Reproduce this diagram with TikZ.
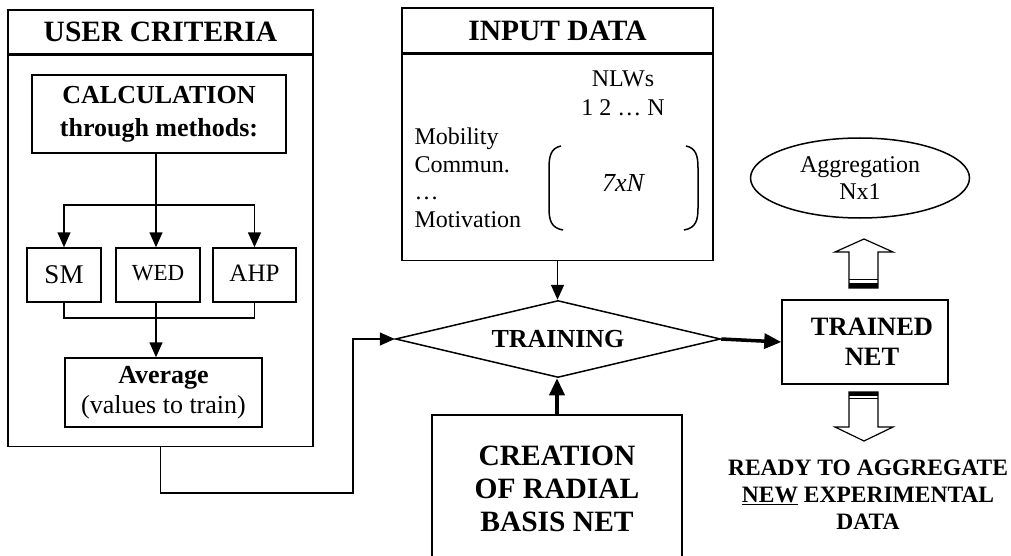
\documentclass[tikz,border=0pt]{standalone}
\usepackage{fontspec}
\setmainfont{Liberation Serif}
\usetikzlibrary{shapes.geometric}
\usetikzlibrary{arrows.meta}
\usetikzlibrary{positioning}
\usetikzlibrary{calc}

\newcommand{\hdfont}{\fontsize{26}{33}\selectfont\bfseries}
\newcommand{\titlefont}{\fontsize{29.5}{33}\selectfont\bfseries}
\newcommand{\txfont}{\fontsize{24}{27.5}\selectfont}

\tikzset{
  box/.style={draw, line width=1.5pt, inner sep=0pt, align=center},
  headbox/.style={box, font=\hdfont},
  link/.style={line width=1.5pt},
  fatlink/.style={line width=3.5pt, -{Triangle[length=17pt,width=15pt]}},
  blockarrow/.style={draw, line width=1.2pt, fill=white}
}

\begin{document}
\begin{tikzpicture}[x=1pt, y=-1pt, >={Triangle[length=15pt,width=13pt]}]
      \useasboundingbox (0,0) rectangle (1011,556);
      \clip (0,0) rectangle (1011,556);

      % User criteria panel
      \node[headbox, font=\titlefont, minimum width=305, minimum height=44] (userhdr) at (160.5,32) {USER CRITERIA};
      \node[box, minimum width=305, minimum height=391, anchor=north] (userbody) at (userhdr.south) {};

      \node[headbox, minimum width=254, minimum height=78] (calc) at (159,114) {CALCULATION\\through methods:};

      % Methods
      \node[box, font=\fontsize{27}{30}\selectfont, minimum width=74, minimum height=54] (sm) at (64,275) {SM};
      \node[box, font=\fontsize{23}{26}\selectfont, minimum width=84, minimum height=54] (wed) at (158,275) {\raisebox{5pt}{WED}};
      \node[box, font=\fontsize{25}{28}\selectfont, minimum width=83, minimum height=54] (ahp) at (254.5,275) {\raisebox{3pt}{AHP}};

      \node[box, font=\fontsize{26}{30}\selectfont, minimum width=197, minimum height=69] (avg) at (163.5,392.5) {\textbf{Average}\\(values to train)};

      % Arrows inside the panel
      \coordinate (fork) at (156,205);
      \coordinate (join) at (156,318);
      \draw[link, ->] (calc.south -| fork) -- (fork |- wed.north);
      \draw[link, ->] (fork) -| (sm.north);
      \draw[link, ->] (fork) -| (ahp.north);
      \draw[link] (sm.south) |- (join) -| (ahp.south);
      \draw[link, ->] (wed.south -| join) -- (join |- avg.north);

      % Input data panel
      \node[headbox, font=\titlefont, minimum width=311, minimum height=45] (inhdr) at (557.5,30.5) {INPUT DATA};
      \node[box, minimum width=311, minimum height=206, anchor=north] (inbody) at (inhdr.south) {};

      \node[font=\fontsize{24}{29}\selectfont, align=center] (nlw) at (623,93) {NLWs\\1 2 … N};
      \node[font=\txfont, align=left, anchor=west] (crit) at (411,178) {Mobility\\Commun.\\…\\Motivation};
      \node[font=\fontsize{26}{30}\selectfont\itshape] (size) at (623,183) {7xN};

      % Matrix brackets
      \draw[link] (561,146) .. controls (551,148) and (549,156) .. (549,168) -- (549,208) .. controls (549,220) and (551,228) .. (563,230);
      \draw[link] (686,146) .. controls (696,148) and (698,156) .. (698,168) -- (698,208) .. controls (698,220) and (696,228) .. (684,230);

      % Training
      \node[draw, diamond, line width=1.5pt, inner sep=0pt, aspect=4.2, minimum width=325, minimum height=77, font=\hdfont] (train) at (558,339) {TRAINING};

      \node[headbox, font=\titlefont, minimum width=250, minimum height=148, anchor=north] (create) at (557,414) {CREATION\\OF RADIAL\\BASIS NET};

      \node[headbox, font=\fontsize{26.5}{30}\selectfont\bfseries, minimum width=166, minimum height=84] (trained) at (865,342) {\hspace*{14pt}TRAINED\\\hspace*{14pt}NET};

      % Output
      \node[draw, ellipse, line width=1.5pt, inner sep=0pt, minimum width=219, minimum height=80, font=\fontsize{24}{27}\selectfont, align=center] (aggr) at (860,178) {Aggregation\\Nx1};

      \node[font=\fontsize{23.5}{27}\selectfont\bfseries, align=center] (ready) at (868,495) {READY TO AGGREGATE\\\underline{NEW} EXPERIMENTAL\\DATA};

      % Connections
      \coordinate (bend) at (353,493);
      \draw[link, ->] (userbody.south) |- (bend) |- (train.west);
      \draw[link, ->] (inbody.south) -- (inbody.south |- train.north);
      \draw[fatlink] (create.north) -- (create.north |- train.south);
      \draw[fatlink] (train.east) -- (trained.west);

      % Hollow arrows
      \draw[blockarrow] (849,288) -- (849,252) -- (835,252) -- (864,239) -- (893,252) -- (878,252) -- (878,288) -- cycle;
      \fill (849,283) rectangle (878,288);
      \draw[line width=1pt] (849,279.5) -- (878,279.5);

      \draw[blockarrow] (849,392) -- (849,427) -- (835,427) -- (864,441) -- (893,427) -- (878,427) -- (878,392) -- cycle;
      \fill (849,392) rectangle (878,395.5);
      \draw[line width=1pt] (849,398.5) -- (878,398.5);

\end{tikzpicture}
\end{document}
